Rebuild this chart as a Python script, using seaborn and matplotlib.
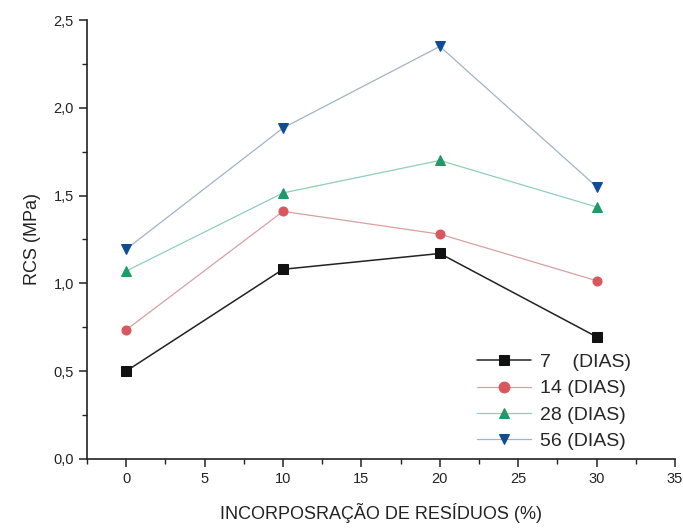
import matplotlib
matplotlib.use("Agg")
import matplotlib.pyplot as plt
import seaborn as sns
import pandas as pd
from matplotlib.ticker import MultipleLocator, FuncFormatter

residuos = [0, 10, 20, 30]
dias_7 = [0.50, 1.08, 1.17, 0.695]
dias_14 = [0.735, 1.41, 1.28, 1.015]
dias_28 = [1.07, 1.515, 1.70, 1.435]
dias_56 = [1.195, 1.885, 2.35, 1.55]
labels = ["7    (DIAS)", "14 (DIAS)", "28 (DIAS)", "56 (DIAS)"]

sns.set_theme(style="ticks")
plt.rcParams['font.family'] = ['Liberation Sans', 'DejaVu Sans']

fig = plt.figure(figsize=(6.83, 5.28), dpi=100)
ax = fig.add_axes([0.1274, 0.131, 0.861, 0.831])

series = [dias_7, dias_14, dias_28, dias_56]
line_cols = ["#222222", "#d9a0a0", "#8fcfb5", "#9fb4c8"]
mark_cols = ["#111111", "#d9575c", "#1f9a6a", "#0f4c95"]
markers = ["s", "o", "^", "v"]
lws = [1.1, 0.9, 0.9, 0.9]

for vals, lab, lc, mc, mk, lw in zip(series, labels, line_cols, mark_cols, markers, lws):
    df = pd.DataFrame({"x": residuos, "y": vals})
    sns.lineplot(data=df, x="x", y="y", ax=ax, color=lc, marker=mk, markersize=6.5,
                 markerfacecolor=mc, markeredgecolor=mc, linewidth=lw, label=lab)

ax.set_xlim(-2.5, 35)
ax.set_ylim(0, 2.5)
ax.xaxis.set_major_locator(MultipleLocator(5))
ax.xaxis.set_minor_locator(MultipleLocator(2.5))
ax.yaxis.set_major_locator(MultipleLocator(0.5))
ax.yaxis.set_minor_locator(MultipleLocator(0.25))
ax.yaxis.set_major_formatter(FuncFormatter(lambda v, p: f"{v:.1f}".replace(".", ",")))
ax.tick_params(which="major", direction="out", length=6, width=1.1, labelsize=10.5, colors="#222222")
ax.tick_params(which="minor", direction="out", length=3.5, width=1.0, colors="#222222")
for s in ["top", "right"]:
    ax.spines[s].set_visible(False)
for s in ["left", "bottom"]:
    ax.spines[s].set_linewidth(1.2)
    ax.spines[s].set_color("#222222")

ax.set_xlabel("INCORPOSRAÇÃO DE RESÍDUOS (%)", fontsize=13, color="#222222", labelpad=12)
ax.set_ylabel("RCS (MPa)", fontsize=13, color="#222222", labelpad=9)

leg = ax.legend(loc="lower right", bbox_to_anchor=(0.955, -0.02), frameon=False, fontsize=14,
                handlelength=2.8, handletextpad=0.45, labelspacing=0.45, markerscale=1.2)

fig.savefig("out.png", dpi=100)
